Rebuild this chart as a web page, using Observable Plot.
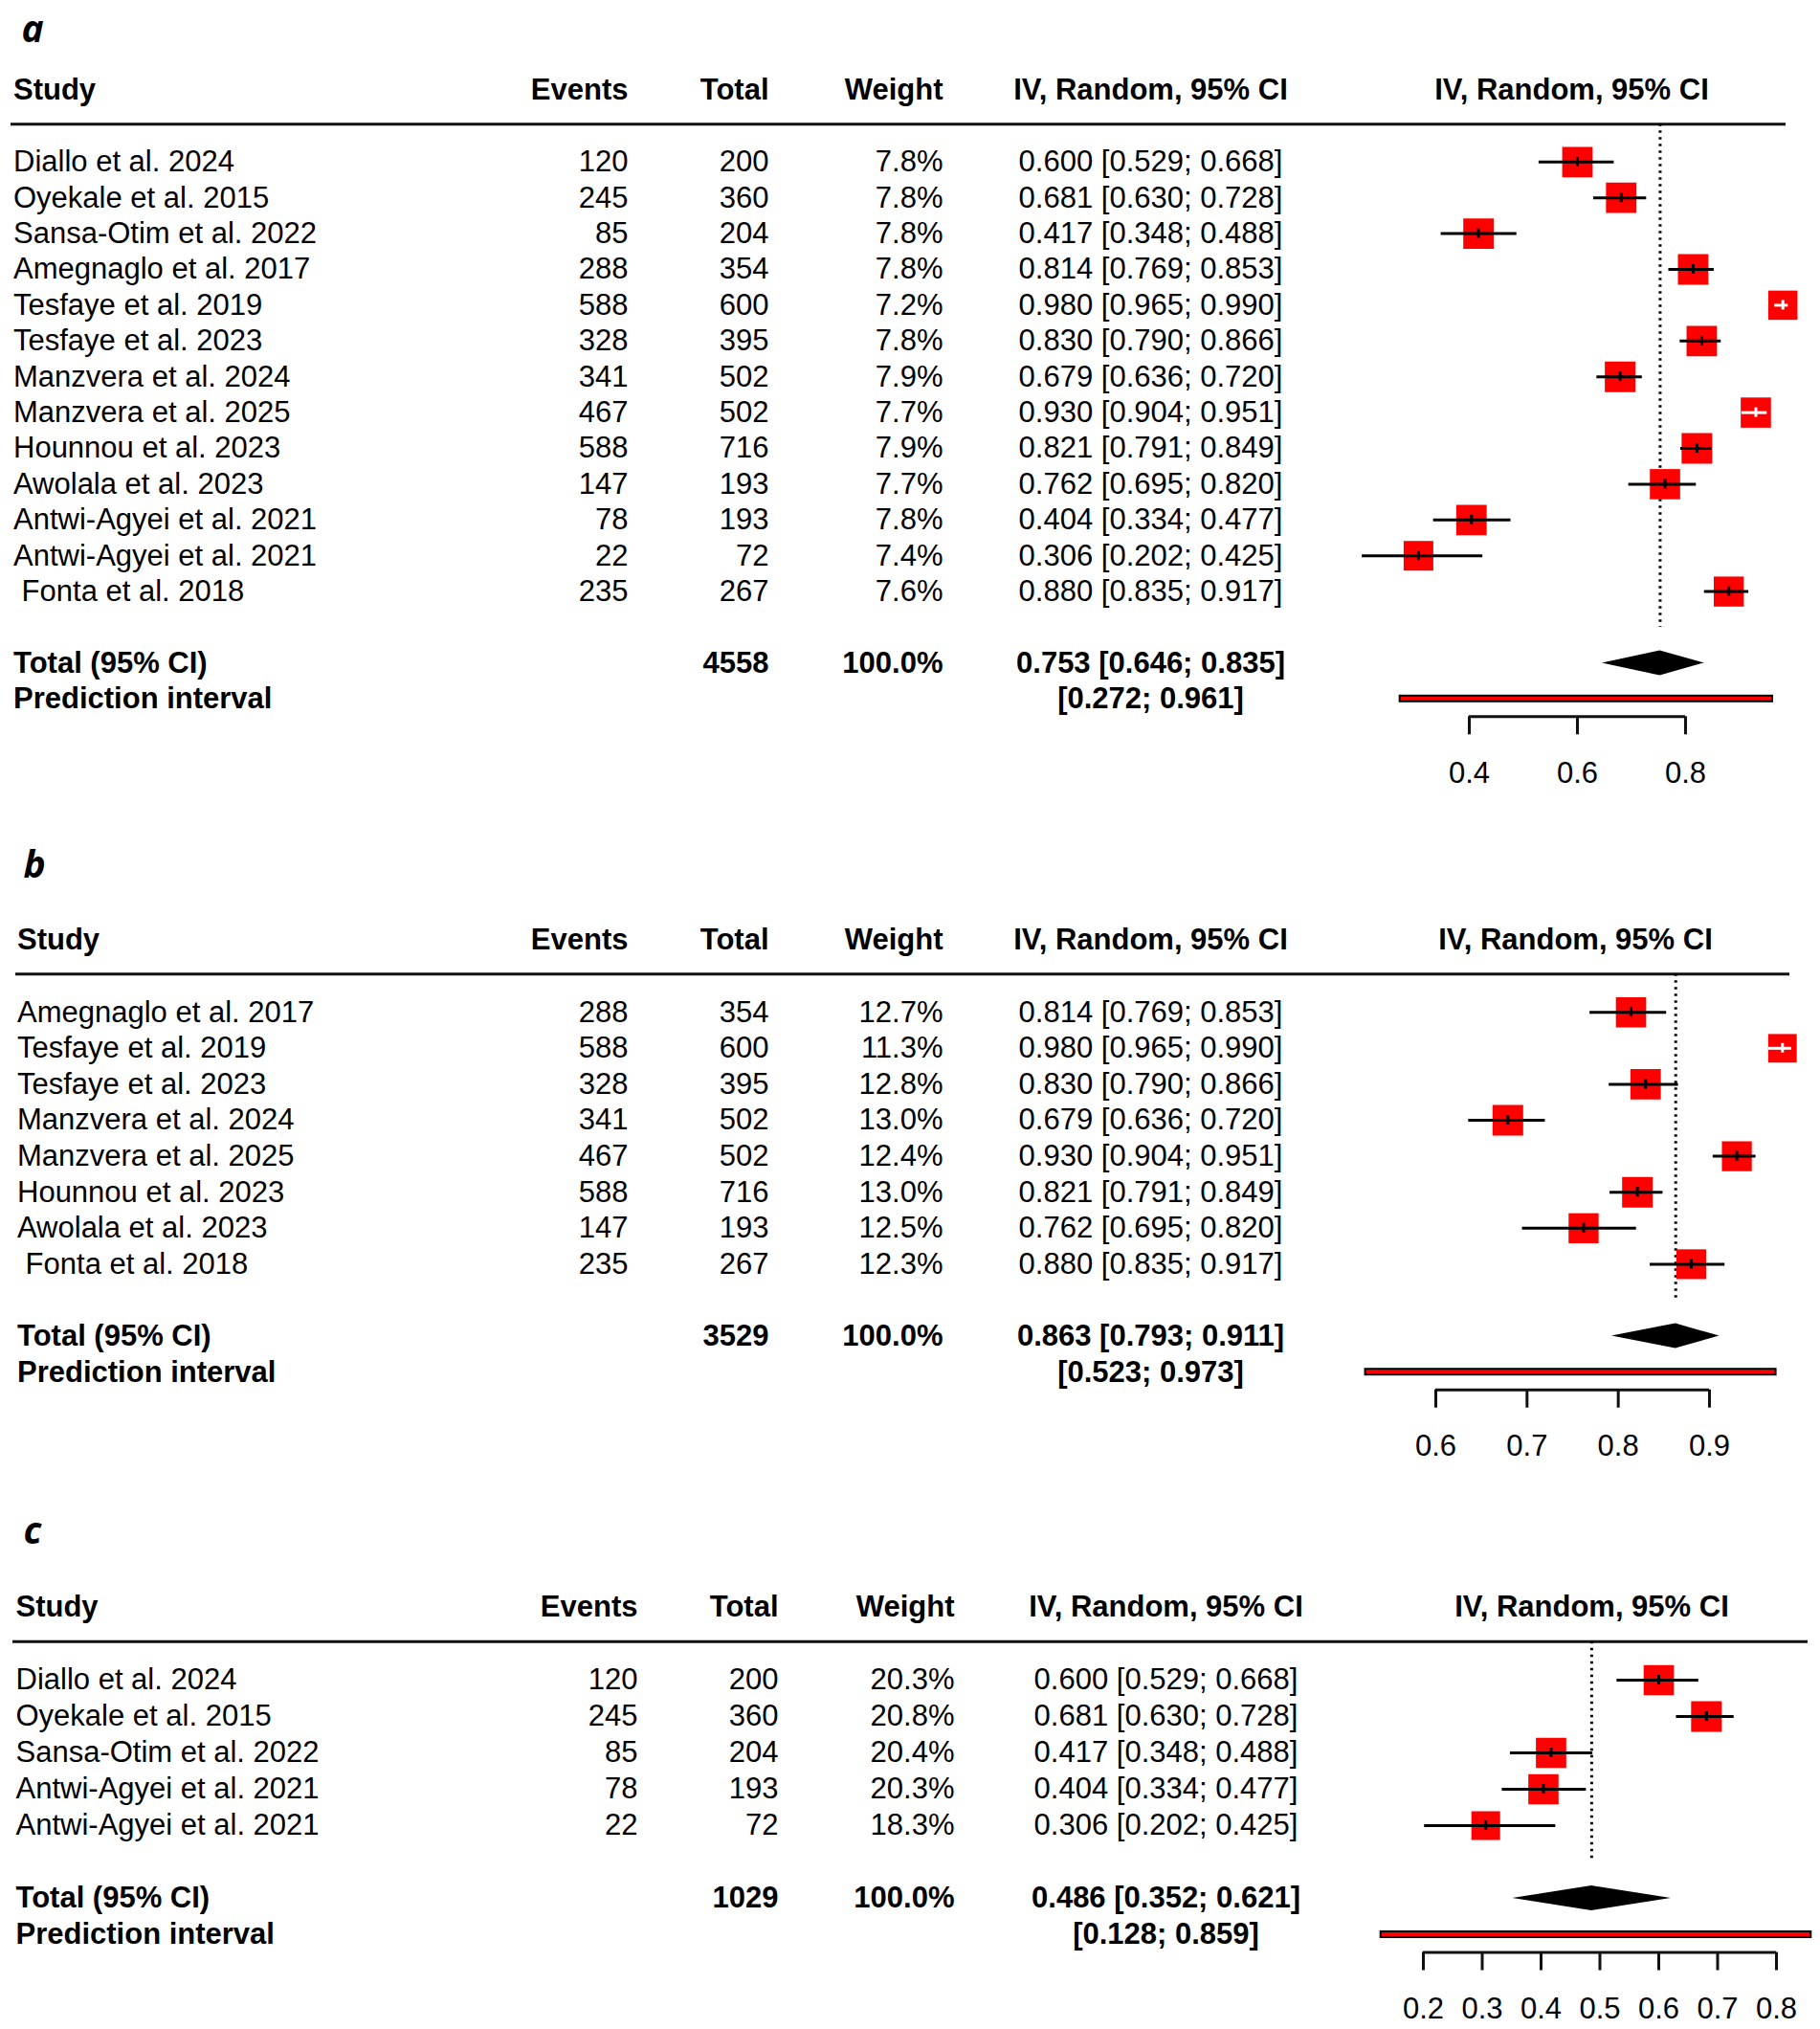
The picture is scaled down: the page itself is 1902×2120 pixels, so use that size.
<!DOCTYPE html>
<html>
<head>
<meta charset="utf-8">
<script src="https://cdn.jsdelivr.net/npm/d3@7"></script>
<script src="https://cdn.jsdelivr.net/npm/@observablehq/plot@0.6"></script>
<style>
  html, body { margin: 0; padding: 0; background: #fff; }
  #chart { width: 1902px; }
  #chart svg { display: block; }
  svg text { white-space: pre; }
</style>
</head>
<body>
<div id="chart"></div>
<script>
// ---------- Panel a ----------
const studiesA = ["Diallo et al. 2024", "Oyekale et al. 2015", "Sansa-Otim et al. 2022", "Amegnaglo et al. 2017",
  "Tesfaye et al. 2019", "Tesfaye et al. 2023", "Manzvera et al. 2024", "Manzvera et al. 2025", "Hounnou et al. 2023",
  "Awolala et al. 2023", "Antwi-Agyei et al. 2021", "Antwi-Agyei et al. 2021", " Fonta et al. 2018"];
const eventsA = [120, 245, 85, 288, 588, 328, 341, 467, 588, 147, 78, 22, 235];
const totalsA = [200, 360, 204, 354, 600, 395, 502, 502, 716, 193, 193, 72, 267];
const weightsA = [7.8, 7.8, 7.8, 7.8, 7.2, 7.8, 7.9, 7.7, 7.9, 7.7, 7.8, 7.4, 7.6];
const estA = [0.600, 0.681, 0.417, 0.814, 0.980, 0.830, 0.679, 0.930, 0.821, 0.762, 0.404, 0.306, 0.880];
const loA  = [0.529, 0.630, 0.348, 0.769, 0.965, 0.790, 0.636, 0.904, 0.791, 0.695, 0.334, 0.202, 0.835];
const hiA  = [0.668, 0.728, 0.488, 0.853, 0.990, 0.866, 0.720, 0.951, 0.849, 0.820, 0.477, 0.425, 0.917];
const pooledA = [0.753, 0.646, 0.835];
const predA = [0.272, 0.961];
const sumTotalA = 4558;
const ticksA = [0.4, 0.6, 0.8];

// ---------- Panel b ----------
const studiesB = ["Amegnaglo et al. 2017", "Tesfaye et al. 2019", "Tesfaye et al. 2023", "Manzvera et al. 2024",
  "Manzvera et al. 2025", "Hounnou et al. 2023", "Awolala et al. 2023", " Fonta et al. 2018"];
const eventsB = [288, 588, 328, 341, 467, 588, 147, 235];
const totalsB = [354, 600, 395, 502, 502, 716, 193, 267];
const weightsB = [12.7, 11.3, 12.8, 13.0, 12.4, 13.0, 12.5, 12.3];
const estB = [0.814, 0.980, 0.830, 0.679, 0.930, 0.821, 0.762, 0.880];
const loB  = [0.769, 0.965, 0.790, 0.636, 0.904, 0.791, 0.695, 0.835];
const hiB  = [0.853, 0.990, 0.866, 0.720, 0.951, 0.849, 0.820, 0.917];
const pooledB = [0.863, 0.793, 0.911];
const predB = [0.523, 0.973];
const sumTotalB = 3529;
const ticksB = [0.6, 0.7, 0.8, 0.9];

// ---------- Panel c ----------
const studiesC = ["Diallo et al. 2024", "Oyekale et al. 2015", "Sansa-Otim et al. 2022", "Antwi-Agyei et al. 2021", "Antwi-Agyei et al. 2021"];
const eventsC = [120, 245, 85, 78, 22];
const totalsC = [200, 360, 204, 193, 72];
const weightsC = [20.3, 20.8, 20.4, 20.3, 18.3];
const estC = [0.600, 0.681, 0.417, 0.404, 0.306];
const loC  = [0.529, 0.630, 0.348, 0.334, 0.202];
const hiC  = [0.668, 0.728, 0.488, 0.477, 0.425];
const pooledC = [0.486, 0.352, 0.621];
const predC = [0.128, 0.859];
const sumTotalC = 1029;
const ticksC = [0.2, 0.3, 0.4, 0.5, 0.6, 0.7, 0.8];

const headers = ["Study", "Events", "Total", "Weight", "IV, Random, 95% CI"];

// ---------- layout (pixels) ----------
const layouts = {
  a: {label: "a", height: 860, hy: 94, step: 37.4, labelX: 22, labelBase: 43, lineX: [11, 1866],
      domain: [0.4, 0.8], range: [1535, 1761],
      cols: {study: 13.5, events: 656, total: 803, weight: 985, ci: 1202, forest: 1642}},
  b: {label: "b", height: 700, hy: 122, step: 37.6, labelX: 24, labelBase: 56, lineX: [16, 1870],
      domain: [0.6, 0.9], range: [1500, 1786],
      cols: {study: 17.5, events: 656, total: 803, weight: 985, ci: 1202, forest: 1646}},
  c: {label: "c", height: 560, hy: 119, step: 38, labelX: 24, labelBase: 52, lineX: [13, 1889],
      domain: [0.2, 0.8], range: [1487, 1856],
      cols: {study: 16, events: 666, total: 813, weight: 997, ci: 1218, forest: 1663}}
};

const FS = 31;
const LABEL_FS = 39;
const f3 = v => v.toFixed(3);
const ciText = (e, l, h) => `${f3(e)} [${f3(l)}; ${f3(h)}]`;

function makePanel(L, d) {
  const {step, hy, cols} = L;
  const rowOf = px => (px - hy) / step;
  const n = d.studies.length;
  const mL = L.lineX[0], mR = 1902 - L.lineX[1];
  const totalRow = n + 3, piRow = n + 4;
  const axisRow = piRow + 18.5 / step;
  const axisY = hy + axisRow * step;
  const mB = L.height - axisY;
  const ppu = (L.range[1] - L.range[0]) / (L.domain[1] - L.domain[0]);
  const maxW = d3.max(d.weights);
  const boxSide = 32;

  const rows = d.studies.map((s, i) => ({
    row: 2 + i, study: s, events: d.events[i], total: d.totals[i], w: d.weights[i],
    est: d.est[i], lo: d.lo[i], hi: d.hi[i]
  }));
  const inside = r => (r.hi - r.lo) * ppu < boxSide * Math.sqrt(r.w / maxW);
  const lineColor = r => inside(r) ? "white" : "black";

  const txt = (data, text, x, anchor, extra = {}) =>
    Plot.text(data, {y: "row", text, frameAnchor: "left", dx: x - mL, textAnchor: anchor, fontSize: FS, ...extra});
  const bold = {fontWeight: "bold"};
  const head = [{row: 0}];
  const tot = [{row: totalRow}];
  const pi = [{row: piRow}];
  const hh = 13 / step;
  const diamond = [
    {x: d.pooled[1], y1: totalRow, y2: totalRow},
    {x: d.pooled[0], y1: totalRow - hh, y2: totalRow + hh},
    {x: d.pooled[2], y1: totalRow, y2: totalRow}
  ];

  const marks = [
    Plot.text([{row: rowOf(L.labelBase - 0.32 * LABEL_FS)}], {y: "row", text: () => L.label, frameAnchor: "left",
      dx: L.labelX - mL, textAnchor: "start", fontSize: LABEL_FS, fontStyle: "italic", fontWeight: "bold",
      fontFamily: "'Open Sans', 'Noto Sans', sans-serif"}),
    // headers
    txt(head, () => headers[0], cols.study, "start", bold),
    txt(head, () => headers[1], cols.events, "end", bold),
    txt(head, () => headers[2], cols.total, "end", bold),
    txt(head, () => headers[3], cols.weight, "end", bold),
    txt(head, () => headers[4], cols.ci, "middle", bold),
    txt(head, () => headers[4], cols.forest, "middle", bold),
    Plot.ruleY([0.94], {strokeWidth: 3, stroke: "#111"}),
    // study rows
    txt(rows, r => r.study, cols.study, "start"),
    txt(rows, r => String(r.events), cols.events, "end"),
    txt(rows, r => String(r.total), cols.total, "end"),
    txt(rows, r => r.w.toFixed(1) + "%", cols.weight, "end"),
    txt(rows, r => ciText(r.est, r.lo, r.hi), cols.ci, "middle"),
    // totals
    txt(tot, () => "Total (95% CI)", cols.study, "start", bold),
    txt(tot, () => String(d.sumTotal), cols.total, "end", bold),
    txt(tot, () => "100.0%", cols.weight, "end", bold),
    txt(tot, () => ciText(...d.pooled), cols.ci, "middle", bold),
    txt(pi, () => "Prediction interval", cols.study, "start", bold),
    txt(pi, () => `[${f3(d.pred[0])}; ${f3(d.pred[1])}]`, cols.ci, "middle", bold),
    // forest
    Plot.ruleX([d.pooled[0]], {y1: 0.94, y2: n + 2, strokeWidth: 3, strokeDasharray: "2.5,4.5", stroke: "black"}),
    Plot.dot(rows, {x: "est", y: "row", r: "w", symbol: "square", fill: "#ff0000", stroke: "none"}),
    Plot.ruleY(rows, {y: "row", x1: "lo", x2: "hi", stroke: lineColor, strokeWidth: 3}),
    Plot.ruleX(rows, {x: "est", y1: r => r.row - 5 / step, y2: r => r.row + 5 / step, stroke: lineColor, strokeWidth: 3}),
    Plot.areaY(diamond, {x: "x", y1: "y1", y2: "y2", fill: "black"}),
    Plot.rect(pi, {x1: () => d.pred[0], x2: () => d.pred[1], y1: r => r.row - 3 / step, y2: r => r.row + 3 / step,
      fill: "#ff0000", stroke: "black", strokeWidth: 2}),
    // axis
    Plot.ruleY([axisRow], {x1: d.ticks[0], x2: d.ticks[d.ticks.length - 1], strokeWidth: 3, stroke: "#111"}),
    Plot.axisX({ticks: d.ticks, tickSize: 19, tickPadding: 28, tickFormat: d3.format(".1f"), fontSize: FS, strokeWidth: 3, stroke: "#111"})
  ];

  return Plot.plot({
    width: 1902,
    height: L.height,
    marginTop: 0,
    marginLeft: mL,
    marginRight: mR,
    marginBottom: mB,
    x: {domain: L.domain, range: L.range},
    y: {domain: [0, 1], range: [hy, hy + step], axis: null},
    r: {type: "sqrt", domain: [0, maxW], range: [0, boxSide / Math.sqrt(Math.PI)]},
    style: {fontFamily: "'Liberation Sans', Arial, sans-serif", fontSize: FS + "px", background: "white", color: "black", overflow: "visible"},
    marks
  });
}

const chart = document.getElementById("chart");
chart.append(makePanel(layouts.a, {studies: studiesA, events: eventsA, totals: totalsA, weights: weightsA, est: estA, lo: loA, hi: hiA, pooled: pooledA, pred: predA, sumTotal: sumTotalA, ticks: ticksA}));
chart.append(makePanel(layouts.b, {studies: studiesB, events: eventsB, totals: totalsB, weights: weightsB, est: estB, lo: loB, hi: hiB, pooled: pooledB, pred: predB, sumTotal: sumTotalB, ticks: ticksB}));
chart.append(makePanel(layouts.c, {studies: studiesC, events: eventsC, totals: totalsC, weights: weightsC, est: estC, lo: loC, hi: hiC, pooled: pooledC, pred: predC, sumTotal: sumTotalC, ticks: ticksC}));
</script>
</body>
</html>
